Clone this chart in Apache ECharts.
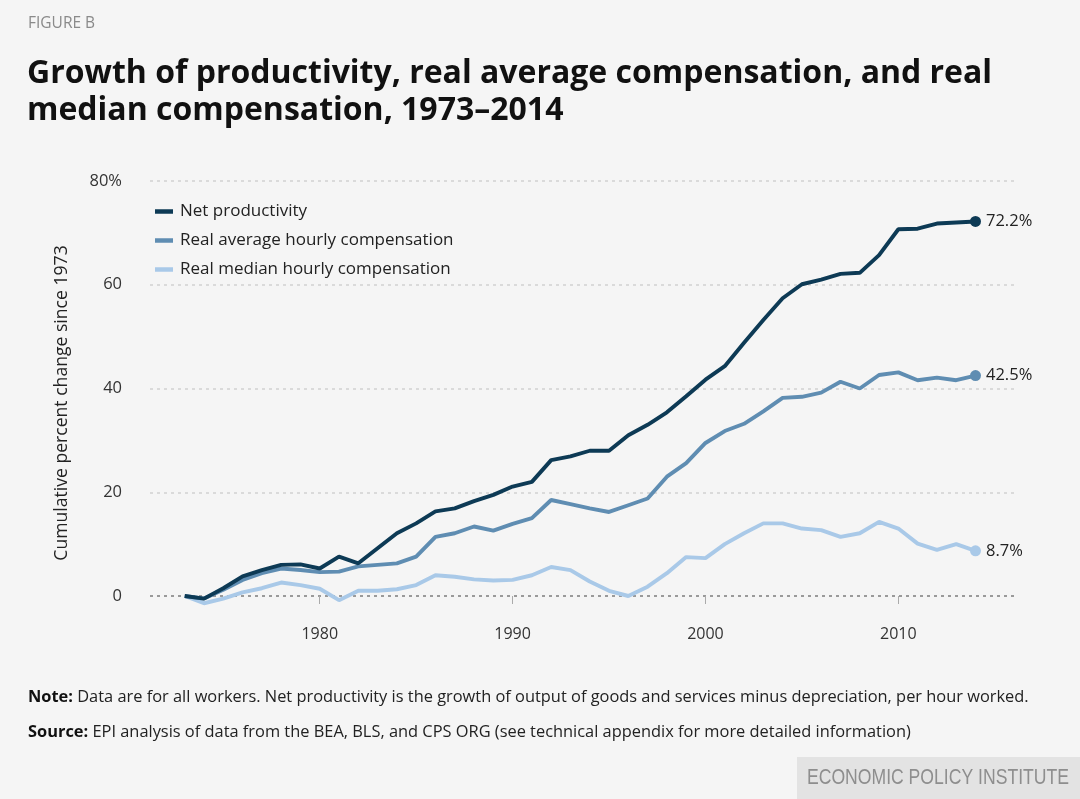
<!DOCTYPE html>
<html>
<head>
<meta charset="utf-8">
<script src="https://cdn.jsdelivr.net/npm/echarts@6/dist/echarts.min.js"></script>
<style>
html,body{margin:0;padding:0;background:#f5f5f5;}
#c{width:1080px;height:799px;}
</style>
</head>
<body>
<div id="c"></div>
<script>
var years = [];
for (var y = 1973; y <= 2014; y++) years.push(y);
var netProductivity = [0,-0.5,1.5,3.8,5.0,6.0,6.1,5.3,7.6,6.3,
  9.2,12.1,14.0,16.3,16.9,18.3,19.5,21.1,22.0,26.2,
  26.9,28.0,28.0,31.0,33.0,35.4,38.5,41.7,44.3,48.8,
  53.2,57.4,60.1,61.0,62.1,62.3,65.7,70.7,70.8,71.8,
  72.0,72.2];
var avgComp = [0,-0.5,1.2,3.1,4.4,5.3,5.0,4.6,4.7,5.7,
  6.0,6.3,7.6,11.4,12.1,13.4,12.6,13.9,15.0,18.5,
  17.7,16.9,16.2,17.5,18.8,23.0,25.6,29.5,31.8,33.2,
  35.6,38.2,38.4,39.2,41.3,40.0,42.6,43.1,41.6,42.1,
  41.6,42.5];
var medianComp = [0,-1.4,-0.5,0.7,1.5,2.6,2.1,1.4,-0.8,1.0,
  1.0,1.3,2.1,4.0,3.7,3.2,3.0,3.1,4.0,5.6,
  5.0,2.8,1.0,0,1.8,4.4,7.5,7.3,10.0,12.1,
  14.0,14.0,13.0,12.7,11.4,12.1,14.3,13.0,10.1,8.9,
  10.0,8.7];
var seriesNames = ['Net productivity','Real average hourly compensation','Real median hourly compensation'];
var seriesColors = ['#0d3a55','#5f8db2','#a9c9e8'];
var endLabels = ['72.2%','42.5%','8.7%'];
var xTicks = [1980,1990,2000,2010];
var yTicks = [0,20,40,60,80];

var FONT = '"Open Sans", "Noto Sans", sans-serif';

function build(vals, idx){
  return vals.map(function(v,i){
    if (i === vals.length-1){
      return {value:[years[i], v], symbol:'circle', symbolSize:11,
        label:{show:true, position:'right', distance:5, formatter: endLabels[idx],
          color:'#222', fontSize:16.5, fontFamily:FONT}};
    }
    return {value:[years[i], v], symbol:'none'};
  });
}

var chart = echarts.init(document.getElementById('c'), null, {renderer:'canvas'});
var series = [2,1,0].map(function(k){
  var data = [netProductivity, avgComp, medianComp][k];
  return {
    name: seriesNames[k], type:'line', data: build(data,k), clip:false,
    showSymbol:true, symbol:'none',
    lineStyle:{width:3.9, color:seriesColors[k]},
    itemStyle:{color:seriesColors[k]},
    z: 3 + (2-k)
  };
});

chart.setOption({
  backgroundColor:'#f5f5f5',
  animation:false,
  grid:{left:150, right:64, top:181, bottom:203},
  legend:{
    data: seriesNames, orient:'vertical', left:150, top:198,
    icon:'rect', itemWidth:18, itemHeight:4.5, itemGap:12,
    textStyle:{fontSize:17, color:'#222', fontFamily:FONT, padding:[0,0,0,2]}
  },
  xAxis:{
    type:'value', min:1971.2, max:2016.1, offset:24,
    axisLine:{show:false},
    axisTick:{show:true, customValues:xTicks, length:8, lineStyle:{color:'#aaa', width:1}},
    axisLabel:{customValues:xTicks, margin:6, fontSize:16, color:'#333', fontFamily:FONT,
      formatter:function(v){return String(v);}},
    splitLine:{show:false}
  },
  yAxis:{
    type:'value', min:0, max:80, interval:20,
    axisLine:{show:false}, axisTick:{show:false},
    axisLabel:{margin:28, fontSize:16.5, color:'#333', fontFamily:FONT,
      formatter:function(v){return v===80 ? '80%' : String(v);}},
    splitLine:{show:true, lineStyle:{color:['#9a9a9a','#dadada','#dadada','#dadada','#dadada'], width:2.2, type:[3,4]}}
  },
  graphic:[
    {type:'text', left:28, top:16, style:{text:'FIGURE B', fontSize:15.5, fill:'#8a8a8a', fontFamily:FONT}},
    {type:'text', left:27, top:55, style:{text:'Growth of productivity, real average compensation, and real\nmedian compensation, 1973–2014', fontSize:32, fontWeight:'bold', lineHeight:37, fill:'#111', fontFamily:FONT}},
    {type:'text', x:62, y:403, rotation:Math.PI/2, style:{text:'Cumulative percent change since 1973', fontSize:17.6, fill:'#222', fontFamily:FONT, align:'center', verticalAlign:'middle'}},
    {type:'text', left:28, top:689, style:{text:'{b|Note:} Data are for all workers. Net productivity is the growth of output of goods and services minus depreciation, per hour worked.', fontSize:16.4, fill:'#222', fontFamily:FONT, rich:{b:{fontWeight:'bold', fontSize:16.4, fontFamily:FONT, fill:'#111'}}}},
    {type:'text', left:28, top:724, style:{text:'{b|Source:} EPI analysis of data from the BEA, BLS, and CPS ORG (see technical appendix for more detailed information)', fontSize:16.4, fill:'#222', fontFamily:FONT, rich:{b:{fontWeight:'bold', fontSize:16.4, fontFamily:FONT, fill:'#111'}}}},
    {type:'rect', shape:{x:797, y:757, width:283, height:42}, style:{fill:'#e3e3e3'}},
    {type:'text', x:1069, y:778, scaleX:0.8, style:{text:'ECONOMIC POLICY INSTITUTE', fontSize:22, fill:'#8e8e8e', fontFamily:'"Liberation Sans Narrow", sans-serif', align:'right', verticalAlign:'middle'}}
  ],
  series: series
});
</script>
</body>
</html>
